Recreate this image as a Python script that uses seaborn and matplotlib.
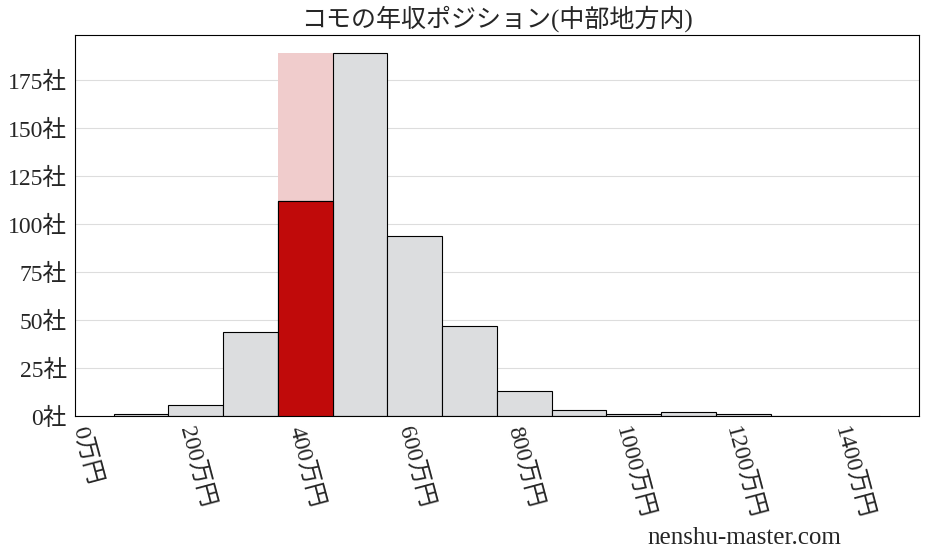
import numpy as np
import seaborn as sns
import matplotlib
matplotlib.use("Agg")
import matplotlib.pyplot as plt

# bins of 100万円, centred on 100, 200, ... 1400
bin_centers = [100, 200, 300, 400, 500, 600, 700, 800, 900, 1000, 1100, 1200, 1300, 1400]
counts = [1, 6, 44, 112, 189, 94, 47, 13, 3, 1, 2, 1, 0, 0]
highlight_center = 400
highlight_count = 112
xticks = [0, 200, 400, 600, 800, 1000, 1200, 1400]
yticks = [0, 25, 50, 75, 100, 125, 150, 175]
title = "コモの年収ポジション(中部地方内)"

sns.set_style("white")
plt.rcParams['font.family'] = ['Liberation Serif', 'Noto Sans CJK JP']

fig = plt.figure(figsize=(9.28, 5.57), dpi=100)
ax = fig.add_axes([0.081, 0.253, 0.909, 0.684])

# pale background bar marking the company's bin
ax.bar(highlight_center, max(counts), width=100, color='#f0cccc', linewidth=0, zorder=1)

sns.histplot(x=bin_centers, weights=counts, binwidth=100, binrange=(50, 1450),
             color='#dcdddf', edgecolor='black', linewidth=0.8, alpha=1, ax=ax, zorder=2)

ax.bar(highlight_center, highlight_count, width=100, color='#c00a0a',
       edgecolor='black', linewidth=0.8, zorder=3)

ax.set_ylim(0, max(counts) * 1.05)
ax.set_xticks(xticks)
ax.set_xticklabels([f"{v}万円" for v in xticks], rotation=-75, fontsize=17)
ax.set_yticks(yticks)
ax.set_yticklabels([f"{v}社" for v in yticks], fontsize=17)
ax.tick_params(axis='both', length=4, width=0.8, color='black', pad=2)
ax.set_xlabel('')
ax.set_ylabel('')
ax.grid(axis='y', color='#dddddd', linewidth=0.8, zorder=0)
ax.set_axisbelow(True)
for s in ax.spines.values():
    s.set_color('black')
    s.set_linewidth(0.8)

ax.set_title(title, fontsize=18, pad=6)
fig.text(0.802, 0.034, "nenshu-master.com", fontsize=18, ha='center', va='center')

fig.savefig("out.png", dpi=100)
